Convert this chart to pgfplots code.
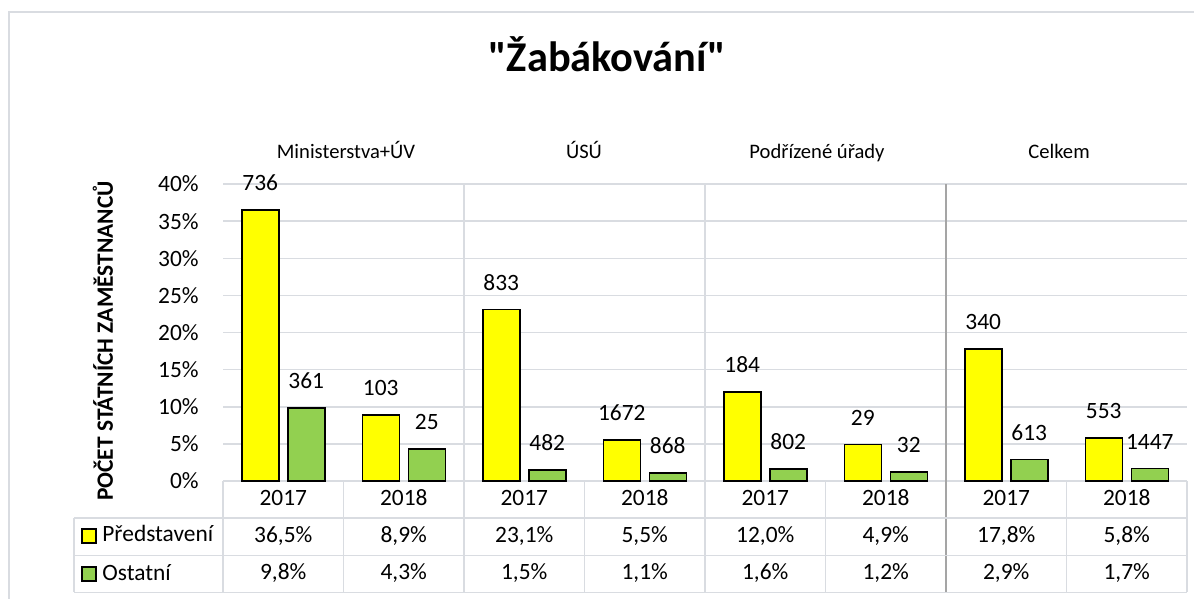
\documentclass[border=0pt]{standalone}
\usepackage{fontspec}
\setmainfont{Carlito}
\newfontfamily\titlefont{Carlito}[Ligatures=TeXOff]
\usepackage{pgfplots}
\pgfplotsset{compat=1.18}
\usepackage{pgfplotstable}

\definecolor{ylw}{RGB}{255,255,0}
\definecolor{grn}{RGB}{146,208,80}
\definecolor{gridc}{RGB}{217,220,225}
\definecolor{sepc}{RGB}{165,165,165}

\pgfplotstableread{
x pred ost predN ostN
0 36.5 9.8 736 361
1 8.9 4.3 103 25
2 23.1 1.5 833 482
3 5.5 1.1 1672 868
4 12.0 1.6 184 802
5 4.9 1.2 29 32
6 17.8 2.9 340 613
7 5.8 1.7 553 1447
}\datatable

\newcommand{\fnt}{\fontsize{11.7}{13}\selectfont}
\newcommand{\gfnt}{\fontsize{10.3}{12}\selectfont}

\begin{document}
\begin{tikzpicture}[x=0.5pt,y=-0.5pt]
\path[use as bounding box] (0,0) rectangle (1194,599);
\draw[gridc, line width=1pt] (9,599) -- (9,12) -- (1194,12);
\node[font=\titlefont\fontsize{21.2}{25}\selectfont\bfseries, anchor=base] at (607,72) {"Žabákování"};
\node[font=\fnt\bfseries, rotate=90] at (103,341) {POČET STÁTNÍCH ZAMĚSTNANCŮ};
\node[font=\gfnt, anchor=base] at (346,159) {Ministerstva+ÚV};
\node[font=\gfnt, anchor=base] at (584,159) {ÚSÚ};
\node[font=\gfnt, anchor=base] at (817,159) {Podřízené úřady};
\node[font=\gfnt, anchor=base] at (1059,159) {Celkem};

\begin{axis}[
  at={(111.5pt,-240.5pt)}, anchor=south west,
  scale only axis, width=482pt, height=148.5pt,
  xmin=-0.5, xmax=7.5, ymin=0, ymax=40,
  clip=false,
  axis line style={draw=none},
  major tick length=0pt,
  xtick={0,...,7},
  xticklabels={2017,2018,2017,2018,2017,2018,2017,2018},
  ytick={0,5,...,40},
  yticklabel={\pgfmathprintnumber{\tick}\%},
  ymajorgrids, grid style={gridc, line width=0.75pt},
  tick label style={font=\fnt, text=black},
  /pgf/number format/assume math mode=true,
  yticklabel style={anchor=east, inner sep=0pt, xshift=-12pt},
  xticklabel style={anchor=base, inner sep=0pt, yshift=-12.25pt},
  every node near coord/.append style={font=\fnt, anchor=south, inner sep=0pt, yshift=9.25pt, text=black},
]
% table grid
\draw[gridc, line width=0.75pt] (axis cs:1.5,40) -- (axis cs:1.5,-15);
\draw[gridc, line width=0.75pt] (axis cs:3.5,40) -- (axis cs:3.5,-15);
\draw[sepc, line width=0.75pt] (axis cs:5.5,40) -- (axis cs:5.5,-15);
\draw[gridc, line width=0.75pt] (axis cs:-0.5,0) -- (axis cs:-0.5,-15);
\draw[gridc, line width=0.75pt] (axis cs:0.5,0) -- (axis cs:0.5,-15);
\draw[gridc, line width=0.75pt] (axis cs:2.5,0) -- (axis cs:2.5,-15);
\draw[gridc, line width=0.75pt] (axis cs:4.5,0) -- (axis cs:4.5,-15);
\draw[gridc, line width=0.75pt] (axis cs:6.5,0) -- (axis cs:6.5,-15);
\draw[gridc, line width=0.75pt] (axis cs:7.5,0) -- (axis cs:7.5,-15);
\draw[gridc, line width=0.75pt] (axis cs:-1.7365,-5) -- (axis cs:7.5,-5);
\draw[gridc, line width=0.75pt] (axis cs:-1.7365,-10) -- (axis cs:7.5,-10);
\draw[gridc, line width=0.75pt] (axis cs:-1.7365,-15) -- (axis cs:7.5,-15);
\draw[gridc, line width=0.75pt] (axis cs:-1.7365,-5) -- (axis cs:-1.7365,-15);

\addplot[ybar, bar width=18.5pt, bar shift=-11.5pt, fill=ylw, draw=black, line width=0.75pt,
  nodes near coords, point meta=explicit symbolic,
  every node near coord/.append style={xshift=-11.5pt}]
  table[x=x, y=pred, meta=predN] {\datatable};
\addplot[ybar, bar width=18.5pt, bar shift=11.5pt, fill=grn, draw=black, line width=0.75pt,
  nodes near coords, point meta=explicit symbolic,
  every node near coord/.append style={xshift=11.5pt}]
  table[x=x, y=ost, meta=ostN] {\datatable};

% data table values
\begin{scope}[every node/.style={font=\fnt, anchor=base, inner sep=0pt}]
\node at (axis cs:0,-8.215) {36,5\%};
\node at (axis cs:1,-8.215) {8,9\%};
\node at (axis cs:2,-8.215) {23,1\%};
\node at (axis cs:3,-8.215) {5,5\%};
\node at (axis cs:4,-8.215) {12,0\%};
\node at (axis cs:5,-8.215) {4,9\%};
\node at (axis cs:6,-8.215) {17,8\%};
\node at (axis cs:7,-8.215) {5,8\%};
\node at (axis cs:0,-13.33) {9,8\%};
\node at (axis cs:1,-13.33) {4,3\%};
\node at (axis cs:2,-13.33) {1,5\%};
\node at (axis cs:3,-13.33) {1,1\%};
\node at (axis cs:4,-13.33) {1,6\%};
\node at (axis cs:5,-13.33) {1,2\%};
\node at (axis cs:6,-13.33) {2,9\%};
\node at (axis cs:7,-13.33) {1,7\%};
\end{scope}
\end{axis}

% legend column
\draw[fill=ylw, line width=0.75pt] (82,529) rectangle (96,543);
\draw[fill=grn, line width=0.75pt] (82,567) rectangle (96,581);
\node[font=\fnt, anchor=base west, inner sep=0pt] at (102,541.7) {Představení};
\node[font=\fnt, anchor=base west, inner sep=0pt] at (102,580) {Ostatní};
\end{tikzpicture}
\end{document}
